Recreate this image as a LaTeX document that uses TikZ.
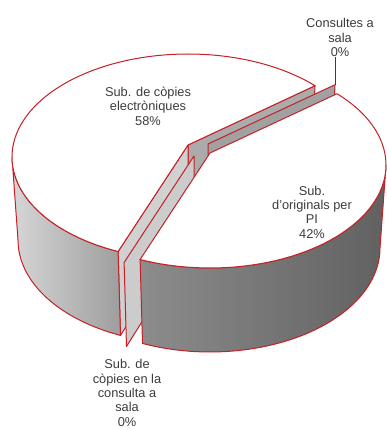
\documentclass[tikz,border=0pt]{standalone}
\usepackage{fontspec}
\setmainfont{Liberation Sans}
\usetikzlibrary{calc}
\definecolor{rimred}{RGB}{196,32,38}
\definecolor{txtgray}{RGB}{60,60,60}

\begin{document}
\begin{tikzpicture}[x=1pt, y=-1pt,
    piece/.style={draw=rimred, line width=1pt, line join=round},
    pielabel/.style={align=center, inner sep=0pt, text=txtgray, font=\fontsize{12.8}{14.4}\selectfont},
    leader/.style={draw=txtgray, line width=0.9pt}]
  \fill[white] (0,0) rectangle (386,430);
  \useasboundingbox (0,0) rectangle (386,430);

  % apexes of the two slices and of the two empty slices
  \coordinate (apexL) at (188,145);
  \coordinate (apexR) at (210,153);
  \coordinate (apexB) at (208,144);
  \coordinate (apexF) at (194,156);

  % rim points on the top and on the bottom ellipse
  \coordinate (rimLb)  at ($(apexL)+(0,12)+(-43.8:176 and 103)$);
  \coordinate (rimLf)  at ($(apexL)+(0,12)+(113.4:176 and 103)$);
  \coordinate (rimLbB) at ($(apexL)+(0,95)+(-43.8:170 and 104)$);
  \coordinate (rimLfB) at ($(apexL)+(0,95)+(113.4:170 and 104)$);
  \coordinate (rimRb)  at ($(apexR)+(0,12)+(-43.8:176 and 103)$);
  \coordinate (rimRf)  at ($(apexR)+(0,12)+(113.4:176 and 103)$);
  \coordinate (rimBt)  at ($(apexB)+(0,12)+(-43.8:176 and 103)$);
  \coordinate (rimBb)  at ($(apexB)+(0,95)+(-43.8:170 and 104)$);
  \coordinate (rimFt)  at ($(apexF)+(0,12)+(113.4:176 and 103)$);
  \coordinate (rimFb)  at ($(apexF)+(0,95)+(113.4:170 and 104)$);

  % cut faces of the left slice
  \draw[piece, fill=black!33] (apexL) -- (rimLb) -- (rimLbB) -- ($(apexL)+(0,83)$) -- cycle;
  \draw[piece, fill=black!18] (apexL) -- (rimLf) -- (rimLfB) -- ($(apexL)+(0,83)$) -- cycle;

  % left slice: side and top
  \draw[piece, left color=black!16, right color=black!38]
    plot[domain=113.4:180, samples=30] ({188+176*cos(\x)},{157+103*sin(\x)})
    -- plot[domain=180:113.4, samples=30] ({188+170*cos(\x)},{240+104*sin(\x)}) -- cycle;
  \draw[piece, fill=white] (apexL) -- (rimLf)
    -- plot[domain=113.4:316.2, samples=80] ({188+176*cos(\x)},{157+103*sin(\x)}) -- cycle;

  % the two empty slices
  \draw[piece, fill=black!37] (apexB) -- (rimBt) -- (rimBb) -- ($(apexB)+(0,83)$) -- cycle;
  \draw[piece, fill=black!20] (apexF) -- (rimFt) -- (rimFb) -- ($(apexF)+(0,83)$) -- cycle;

  % right slice: side and top
  \draw[piece, left color=black!45, right color=black!62]
    plot[domain=0:113.4, samples=40] ({210+176*cos(\x)},{165+103*sin(\x)})
    -- plot[domain=113.4:0, samples=40] ({210+170*cos(\x)},{248+104*sin(\x)}) -- cycle;
  \draw[piece, fill=white] (apexR) -- (rimRb)
    -- plot[domain=-43.8:113.4, samples=60] ({210+176*cos(\x)},{165+103*sin(\x)}) -- cycle;

  % labels
  \node[pielabel] (lblElec) at (148,106) {Sub. de còpies\\electròniques\\58\%};
  \node[pielabel] (lblOrig) at (312,212) {Sub.\\d’originals per\\PI\\42\%};
  \node[pielabel] (lblCons) at (340,37.5) {Consultes a\\sala\\0\%};
  \node[pielabel] (lblCopy) at (127,393) {Sub. de\\còpies en la\\consulta a\\sala\\0\%};
  \draw[leader] (lblCons.south -| rimBt) -- (rimBt);
\end{tikzpicture}
\end{document}
